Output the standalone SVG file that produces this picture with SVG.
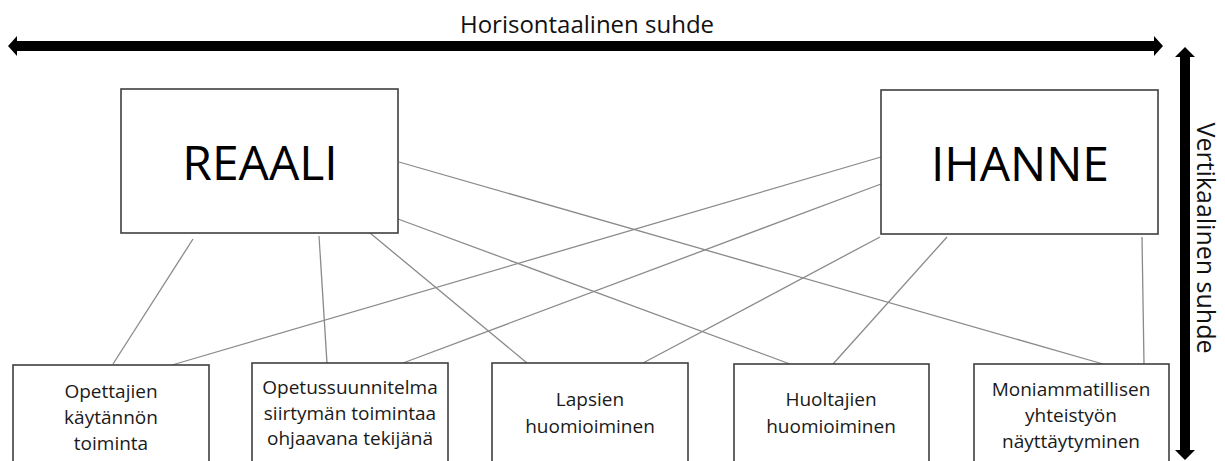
<svg xmlns="http://www.w3.org/2000/svg" width="1225" height="461" viewBox="0 0 1225 461">
<style>
.bg{fill:#ffffff}
.big{fill:#ffffff;stroke:#3f3f3f;stroke-width:1.6}
.box{fill:#ffffff;stroke:#3f3f3f;stroke-width:1.6}
.big-t{font-family:"Open Sans","Liberation Sans",sans-serif;font-size:48px;fill:#000;text-anchor:middle}
.t{font-family:"Open Sans","Liberation Sans",sans-serif;font-size:19px;fill:#1a1a1a;text-anchor:middle}
.axis-t{font-family:"Open Sans","Liberation Sans",sans-serif;font-size:24px;fill:#111;text-anchor:middle}
.axis-v{font-size:25px}
.conn line{stroke:#8a8a8a;stroke-width:1.3}
.arrow{fill:#000}
</style>
<rect class="bg" x="0" y="0" width="1225" height="461"/>
<g id="axes">
<polygon class="arrow" points="8,46 17,36 17,41 1154,41 1154,36 1163,46 1154,56 1154,51 17,51 17,56"/>
<text class="axis-t" x="587" y="33">Horisontaalinen suhde</text>
<polygon class="arrow" points="1185,47 1195,57 1190,57 1190,450 1195,450 1185,460 1175,450 1180,450 1180,57 1175,57"/>
<text class="axis-t axis-v" transform="translate(1197,238) rotate(90)" x="0" y="0">Vertikaalinen suhde</text>
</g>
<g class="conn" id="connectors">
<line x1="193" y1="239" x2="113" y2="364"/>
<line x1="319" y1="236" x2="327" y2="363"/>
<line x1="370" y1="233" x2="527" y2="363"/>
<line x1="398" y1="219" x2="790" y2="364"/>
<line x1="399" y1="162" x2="1103" y2="364"/>
<line x1="881" y1="157" x2="172" y2="365"/>
<line x1="881" y1="184" x2="403" y2="363"/>
<line x1="880" y1="237" x2="643" y2="363"/>
<line x1="947" y1="237" x2="833" y2="364"/>
<line x1="1142" y1="237" x2="1144" y2="364"/>
</g>
<g id="reaali">
<rect class="big" x="121" y="89" width="277" height="144"/>
<text class="big-t" x="260" y="180">REAALI</text>
</g>
<g id="ihanne">
<rect class="big" x="881" y="90" width="277" height="144"/>
<text class="big-t" x="1020" y="181">IHANNE</text>
</g>
<g id="opettajien">
<rect class="box" x="13" y="365" width="196" height="110"/>
<text class="t" x="111" y="398">Opettajien</text>
<text class="t" x="111" y="424">käytännön</text>
<text class="t" x="111" y="450">toiminta</text>
</g>
<g id="opetussuunnitelma">
<rect class="box" x="252" y="363" width="196" height="112"/>
<text class="t" x="350" y="394">Opetussuunnitelma</text>
<text class="t" x="350" y="420">siirtymän toimintaa</text>
<text class="t" x="350" y="445">ohjaavana tekijänä</text>
</g>
<g id="lapsien">
<rect class="box" x="492" y="363" width="196" height="112"/>
<text class="t" x="590" y="406">Lapsien</text>
<text class="t" x="590" y="433">huomioiminen</text>
</g>
<g id="huoltajien">
<rect class="box" x="734" y="364" width="195" height="111"/>
<text class="t" x="831" y="406">Huoltajien</text>
<text class="t" x="831" y="433">huomioiminen</text>
</g>
<g id="moniammatillisen">
<rect class="box" x="974" y="364" width="195" height="111"/>
<text class="t" x="1071" y="396">Moniammatillisen</text>
<text class="t" x="1071" y="422">yhteistyön</text>
<text class="t" x="1071" y="448">näyttäytyminen</text>
</g>
</svg>
